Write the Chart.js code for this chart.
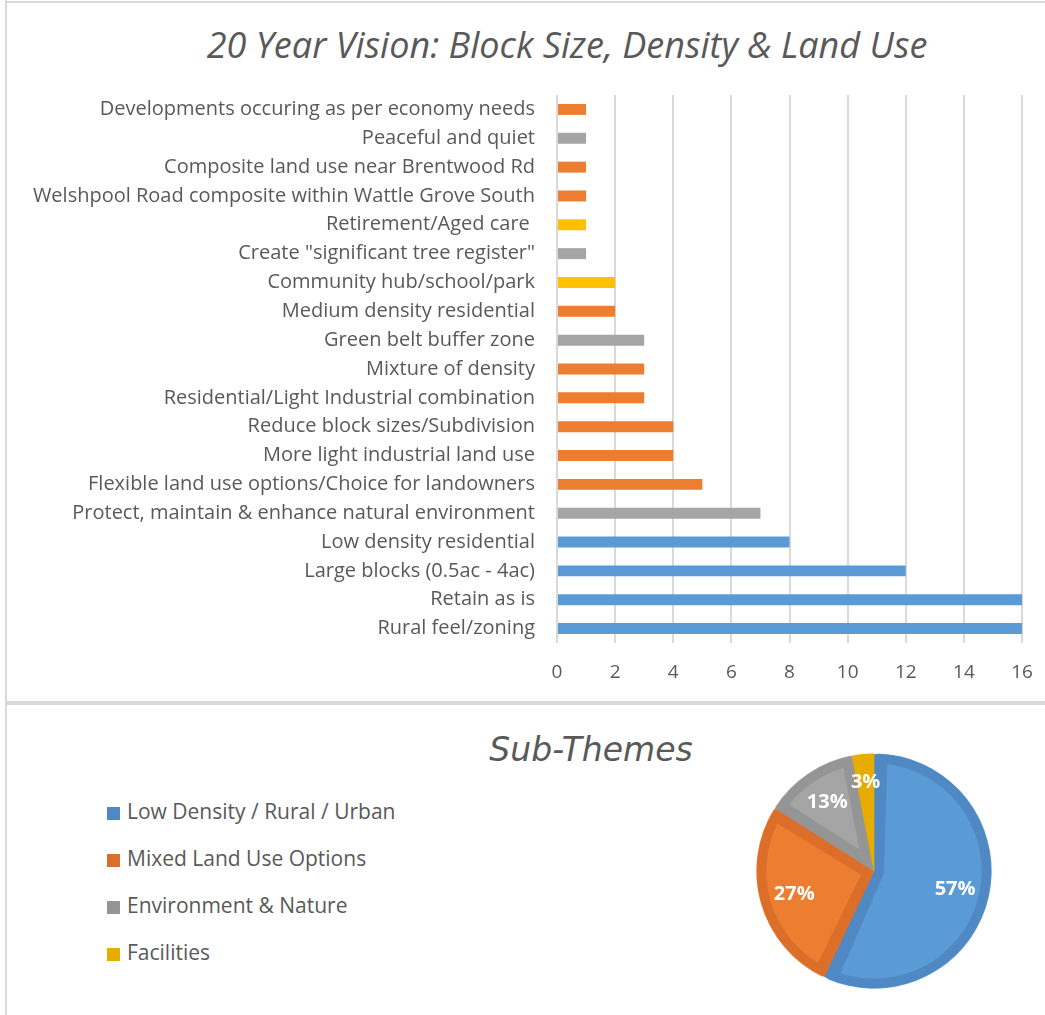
<!DOCTYPE html>
<html>
<head>
<meta charset="utf-8">
<script src="https://cdn.jsdelivr.net/npm/chart.js@4.4.0/dist/chart.umd.min.js"></script>
<style>
  body { margin: 0; background: #fff; width: 1045px; height: 1015px; position: relative; overflow: hidden; font-family: "Open Sans", sans-serif; }
  .line { position: absolute; background: #d9d9d9; }
  .title { position: absolute; font-style: italic; color: #595959; text-align: center; white-space: nowrap; }
  #legend { position: absolute; left: 107px; top: 788px; margin: 0; padding: 0; list-style: none; }
  #legend li { height: 47px; line-height: 47px; font-size: 21px; color: #595959; white-space: nowrap; }
  #legend span { display: inline-block; width: 13px; height: 13px; margin-right: 7px; vertical-align: -1px; }
</style>
</head>
<body>
<div class="line" style="left:5px; top:1px; width:1040px; height:2px;"></div>
<div class="line" style="left:5px; top:0; width:2px; height:1015px;"></div>
<div class="line" style="left:5px; top:701px; width:1040px; height:4px;"></div>

<div class="title" style="left:90px; width:954px; top:19px; font-size:36px; line-height:52px;">20 Year Vision: Block Size, Density &amp; Land Use</div>
<canvas id="barChart" width="1045" height="610" style="position:absolute; left:0; top:85px;"></canvas>

<div class="title" style="left:391px; width:400px; top:726px; font-family:'DejaVu Sans', sans-serif; font-size:33px; line-height:48px;">Sub-Themes</div>
<ul id="legend"></ul>
<canvas id="pieChart" width="236" height="236" style="position:absolute; left:756px; top:753px;"></canvas>

<script>
const categories = [
  "Developments occuring as per economy needs",
  "Peaceful and quiet",
  "Composite land use near Brentwood Rd",
  "Welshpool Road composite within Wattle Grove South",
  "Retirement/Aged care ",
  "Create \"significant tree register\"",
  "Community hub/school/park",
  "Medium density residential",
  "Green belt buffer zone",
  "Mixture of density",
  "Residential/Light Industrial combination",
  "Reduce block sizes/Subdivision",
  "More light industrial land use",
  "Flexible land use options/Choice for landowners",
  "Protect, maintain & enhance natural environment",
  "Low density residential",
  "Large blocks (0.5ac - 4ac)",
  "Retain as is",
  "Rural feel/zoning"
];
const counts = [1, 1, 1, 1, 1, 1, 2, 2, 3, 3, 3, 4, 4, 5, 7, 8, 12, 16, 16];
// sub-theme index of each bar: 0 low density, 1 mixed use, 2 environment, 3 facilities
const barThemes = [1, 2, 1, 1, 3, 2, 3, 1, 2, 1, 1, 1, 1, 1, 2, 0, 0, 0, 0];
const xTicks = [0, 2, 4, 6, 8, 10, 12, 14, 16];

const themeNames = ["Low Density / Rural / Urban", "Mixed Land Use Options", "Environment & Nature", "Facilities"];
const themeShares = [57, 27, 13, 3];

const barColors = ["#5b9bd5", "#ed7d31", "#a5a5a5", "#ffc000"];
const pieFill = ["#5b9bd5", "#ed7d31", "#a5a5a5", "#ffc000"];
const pieEdge = ["#4f88c2", "#db6f2a", "#959595", "#e6ac00"];

const textFont = '"Open Sans", sans-serif';

new Chart(document.getElementById("barChart"), {
  type: 'bar',
  data: {
    labels: categories,
    datasets: [{
      data: counts,
      backgroundColor: barThemes.map(t => barColors[t]),
      barPercentage: 0.38,
      categoryPercentage: 1
    }]
  },
  options: {
    indexAxis: 'y',
    responsive: false,
    animation: false,
    layout: { padding: { left: 0, right: 23, top: 10, bottom: 0 } },
    plugins: { legend: { display: false }, tooltip: { enabled: false } },
    scales: {
      x: {
        min: xTicks[0],
        max: xTicks[xTicks.length - 1],
        afterBuildTicks: scale => { scale.ticks = xTicks.map(v => ({ value: v })); },
        afterFit: scale => { scale.height = 52; scale.paddingLeft = 0; scale.paddingRight = 0; },
        grid: { color: '#d9d9d9', lineWidth: 2, drawTicks: false },
        border: { display: false },
        ticks: { color: '#595959', font: { family: textFont, size: 19 }, padding: 18 }
      },
      y: {
        afterFit: scale => { scale.width = 557; scale.paddingTop = 0; scale.paddingBottom = 0; },
        grid: { display: false, drawTicks: false },
        border: { display: false },
        ticks: { color: '#595959', font: { family: textFont, size: 20 }, padding: 22, autoSkip: false }
      }
    }
  }
});

const legend = document.getElementById("legend");
themeNames.forEach((name, i) => {
  const li = document.createElement("li");
  const box = document.createElement("span");
  box.style.background = pieEdge[i];
  li.appendChild(box);
  li.appendChild(document.createTextNode(name));
  legend.appendChild(li);
});

const pieLabels = {
  id: 'pieLabels',
  afterDatasetsDraw(chart) {
    const ctx = chart.ctx;
    const meta = chart.getDatasetMeta(0);
    ctx.save();
    ctx.fillStyle = '#ffffff';
    ctx.font = 'bold 20px ' + textFont;
    ctx.textAlign = 'center';
    ctx.textBaseline = 'middle';
    meta.data.forEach((arc, i) => {
      const p = arc.getProps(['x', 'y', 'startAngle', 'endAngle', 'outerRadius'], true);
      const mid = (p.startAngle + p.endAngle) / 2;
      const r = p.outerRadius * (i === 3 ? 0.76 : 0.71);
      ctx.fillText(themeShares[i] + '%', p.x + Math.cos(mid) * r, p.y + Math.sin(mid) * r);
    });
    ctx.restore();
  }
};

new Chart(document.getElementById("pieChart"), {
  type: 'pie',
  data: {
    labels: themeNames,
    datasets: [{
      data: themeShares,
      backgroundColor: pieFill,
      borderColor: pieEdge,
      borderWidth: 10,
      borderAlign: 'inner',
      spacing: 2,
      hoverOffset: 0,
      offset: 0
    }]
  },
  options: {
    responsive: false,
    animation: false,
    layout: { padding: 0 },
    plugins: { legend: { display: false }, tooltip: { enabled: false } }
  },
  plugins: [pieLabels]
});
</script>
</body>
</html>
